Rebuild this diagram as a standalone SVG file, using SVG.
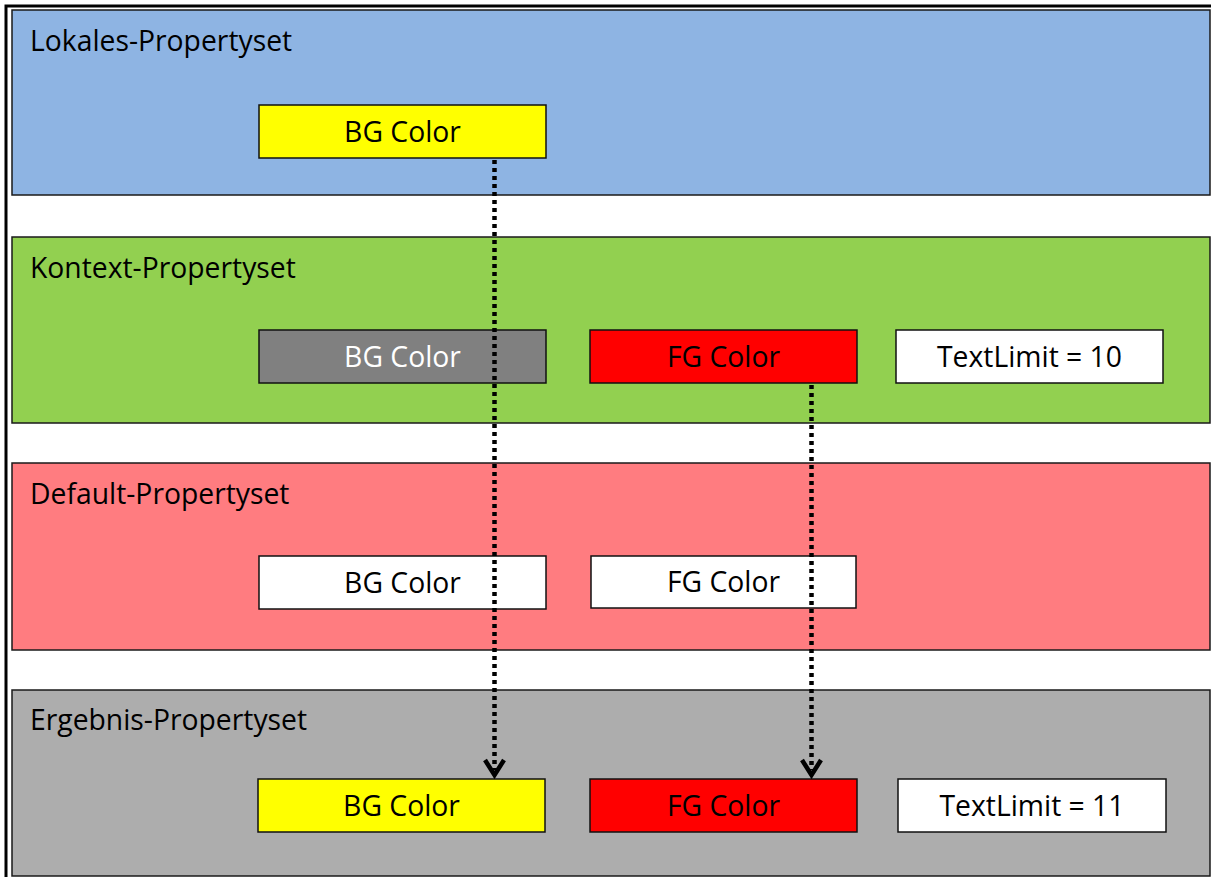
<svg xmlns="http://www.w3.org/2000/svg" width="1211" height="877" viewBox="0 0 1211 877">
  <defs>
    <style>
      .panel { stroke: #1a1a1a; stroke-width: 1.5; }
      .box { stroke: #111; stroke-width: 1.5; }
      .title { font-family: "Open Sans", "Liberation Sans", sans-serif; font-size: 28.3px; fill: #000; }
      .lbl { font-family: "Open Sans", "Liberation Sans", sans-serif; font-size: 28.3px; fill: #000; text-anchor: middle; }
      .flow { stroke: #000; stroke-width: 4.5; stroke-dasharray: 4 4; fill: none; }
      .head { stroke: #000; stroke-width: 4.5; fill: none; stroke-linejoin: miter; }
    </style>
  </defs>

  <rect width="1211" height="877" fill="#fff"/>
  <!-- outer frame -->
  <path d="M6 877 V6 H1211" fill="none" stroke="#000" stroke-width="3"/>

  <g id="lokales">
    <rect class="panel" x="12" y="10" width="1198" height="185" fill="#8EB4E3"/>
    <text class="title" x="30" y="51">Lokales-Propertyset</text>
    <g id="lokales-bg">
      <rect class="box" x="259" y="105" width="287" height="53" fill="#FFFF00"/>
      <text class="lbl" x="402.5" y="142">BG Color</text>
    </g>
  </g>

  <g id="kontext">
    <rect class="panel" x="12" y="237" width="1198" height="186" fill="#92D050"/>
    <text class="title" x="30" y="278">Kontext-Propertyset</text>
    <g id="kontext-bg">
      <rect class="box" x="259" y="330" width="287" height="53" fill="#808080"/>
      <text class="lbl" x="402.5" y="367" style="fill:#fff">BG Color</text>
    </g>
    <g id="kontext-fg">
      <rect class="box" x="590" y="330" width="267" height="53" fill="#FF0000"/>
      <text class="lbl" x="723.5" y="367">FG Color</text>
    </g>
    <g id="kontext-limit">
      <rect class="box" x="896" y="330" width="267" height="53" fill="#fff"/>
      <text class="lbl" x="1029.5" y="367">TextLimit = 10</text>
    </g>
  </g>

  <g id="default">
    <rect class="panel" x="12" y="463" width="1198" height="187" fill="#FF7C80"/>
    <text class="title" x="30" y="504">Default-Propertyset</text>
    <g id="default-bg">
      <rect class="box" x="259" y="556" width="287" height="53" fill="#fff"/>
      <text class="lbl" x="402.5" y="593">BG Color</text>
    </g>
    <g id="default-fg">
      <rect class="box" x="591" y="556" width="265" height="52" fill="#fff"/>
      <text class="lbl" x="723.5" y="592">FG Color</text>
    </g>
  </g>

  <g id="ergebnis">
    <rect class="panel" x="12" y="690" width="1198" height="186" fill="#ADADAD"/>
    <text class="title" x="30" y="730">Ergebnis-Propertyset</text>
    <g id="ergebnis-bg">
      <rect class="box" x="258" y="779" width="287" height="53" fill="#FFFF00"/>
      <text class="lbl" x="401.5" y="816">BG Color</text>
    </g>
    <g id="ergebnis-fg">
      <rect class="box" x="590" y="779" width="267" height="53" fill="#FF0000"/>
      <text class="lbl" x="723.5" y="816">FG Color</text>
    </g>
    <g id="ergebnis-limit">
      <rect class="box" x="898" y="779" width="268" height="53" fill="#fff"/>
      <text class="lbl" x="1032" y="816">TextLimit = 11</text>
    </g>
  </g>

  <g id="connectors">
    <line class="flow" x1="494.5" y1="160" x2="494.5" y2="770"/>
    <path class="head" d="M485 760 L494.5 775 L504 760"/>
    <line class="flow" x1="811.5" y1="385" x2="811.5" y2="770"/>
    <path class="head" d="M802 760 L811.5 775 L821 760"/>
  </g>
</svg>
